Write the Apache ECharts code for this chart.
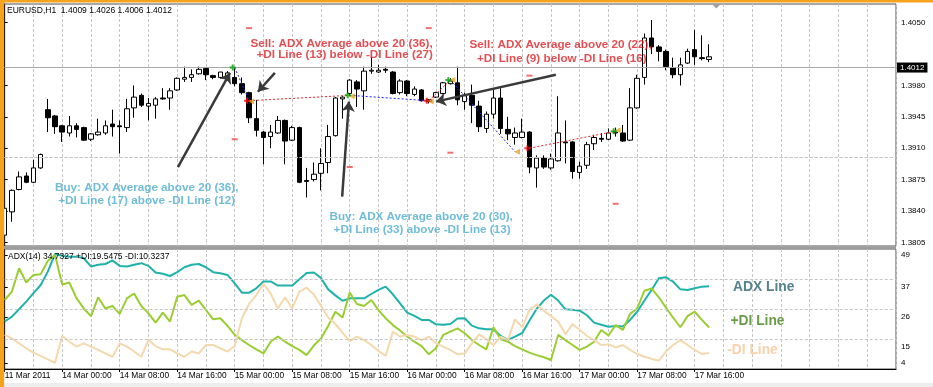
<!DOCTYPE html>
<html><head><meta charset="utf-8">
<script src="https://cdn.jsdelivr.net/npm/echarts@6/dist/echarts.min.js"></script>
<style>html,body{margin:0;padding:0;background:#fff}#c{width:933px;height:387px}</style>
</head><body><div id="c"></div>
<script>
// ---------------- DATA ----------------
const openP  = [1.3813,1.3839,1.3864,1.3879,1.3872,1.3888,1.3953,1.3946,1.3935,1.3927,1.3935,1.3933,1.3920,1.3925,1.3927,1.3937,1.3935,1.3933,1.3955,1.3969,1.3957,1.3958,1.3966,1.3966,1.3975,1.3987,1.3989,1.3993,1.3999,1.3991,1.3989,1.3986,1.3989,1.3982,1.3972,1.3943,1.3928,1.3923,1.3927,1.3941,1.3919,1.3933,1.3874,1.3875,1.3882,1.3894,1.3924,1.3965,1.3971,1.3984,1.3974,1.3996,1.3995,1.3998,1.3995,1.3972,1.3985,1.3970,1.3975,1.3962,1.3967,1.3971,1.3982,1.3983,1.3962,1.3969,1.3957,1.3932,1.3948,1.3966,1.3931,1.3922,1.3922,1.3928,1.3888,1.3899,1.3888,1.3896,1.3917,1.3917,1.3883,1.3891,1.3915,1.3921,1.3920,1.3927,1.3927,1.3919,1.3955,1.3989,1.4033,1.4023,1.4018,1.4000,1.3992,1.4005,1.4020,1.4011,1.4009];
const highP  = [1.3847,1.3864,1.3884,1.3883,1.3897,1.3904,1.3965,1.3947,1.3936,1.3946,1.3938,1.3934,1.3927,1.3943,1.3941,1.3953,1.3941,1.3965,1.3980,1.3971,1.3966,1.3967,1.3977,1.3977,1.3989,1.4001,1.3998,1.4001,1.4000,1.3992,1.3995,1.3996,1.3999,1.3989,1.3973,1.3964,1.3929,1.3936,1.3946,1.3942,1.3935,1.3934,1.3888,1.3894,1.3910,1.3936,1.3967,1.3968,1.3987,1.3986,1.4001,1.4012,1.4003,1.4001,1.3996,1.3987,1.3986,1.3979,1.3976,1.3965,1.3973,1.3984,1.3988,1.4001,1.3972,1.3981,1.3963,1.3951,1.3975,1.3977,1.3945,1.3933,1.3943,1.3929,1.3902,1.3902,1.3904,1.3968,1.3941,1.3918,1.3895,1.3917,1.3925,1.3927,1.3932,1.3933,1.3936,1.3977,1.3992,1.4038,1.4053,1.4025,1.4020,1.4011,1.4011,1.4021,1.4042,1.4036,1.4026];
const lowP   = [1.3808,1.3828,1.3863,1.3871,1.3871,1.3887,1.3928,1.3926,1.3917,1.3923,1.3922,1.3918,1.3918,1.3924,1.3925,1.3923,1.3904,1.3928,1.3944,1.3956,1.3941,1.3943,1.3964,1.3953,1.3974,1.3984,1.3984,1.3992,1.3986,1.3987,1.3988,1.3985,1.3979,1.3970,1.3938,1.3923,1.3892,1.3910,1.3926,1.3892,1.3918,1.3871,1.3855,1.3873,1.3863,1.3882,1.3923,1.3943,1.3969,1.3956,1.3953,1.3993,1.3994,1.3994,1.3970,1.3970,1.3968,1.3968,1.3962,1.3960,1.3966,1.3970,1.3981,1.3958,1.3953,1.3938,1.3928,1.3927,1.3943,1.3926,1.3919,1.3914,1.3921,1.3882,1.3866,1.3887,1.3886,1.3895,1.3893,1.3876,1.3876,1.3887,1.3908,1.3917,1.3919,1.3923,1.3917,1.3918,1.3954,1.3981,1.4015,1.4007,1.3997,1.3988,1.3980,1.4004,1.4003,1.4008,1.4006];
const closeP = [1.3843,1.3863,1.3878,1.3872,1.3888,1.3903,1.3944,1.3934,1.3928,1.3935,1.3931,1.3919,1.3926,1.3928,1.3935,1.3934,1.3934,1.3954,1.3967,1.3958,1.3960,1.3965,1.3965,1.3974,1.3988,1.3989,1.3992,1.3998,1.3992,1.3989,1.3995,1.3994,1.3982,1.3972,1.3944,1.3930,1.3922,1.3928,1.3941,1.3918,1.3933,1.3872,1.3873,1.3881,1.3893,1.3923,1.3966,1.3967,1.3986,1.3976,1.3996,1.3997,1.3997,1.3997,1.3971,1.3985,1.3971,1.3976,1.3963,1.3964,1.3972,1.3983,1.3985,1.3964,1.3969,1.3958,1.3934,1.3948,1.3966,1.3932,1.3926,1.3927,1.3928,1.3889,1.3899,1.3889,1.3898,1.3927,1.3916,1.3884,1.3890,1.3914,1.3922,1.3920,1.3927,1.3928,1.3918,1.3955,1.3988,1.4033,1.4023,1.4018,1.4001,1.3992,1.4003,1.4018,1.4012,1.4010,1.4012];

const adxLine = [21.8,23.6,26.3,29.1,32.2,35.2,40.1,46.6,45.9,45.6,45.6,45.0,42.0,42.6,42.9,44.2,42.2,42.0,42.6,43.2,42.2,39.8,39.3,38.5,39.9,41.7,42.6,42.9,41.7,39.9,39.5,38.9,35.8,32.4,32.4,34.0,36.5,36.5,35.0,35.0,35.0,37.3,39.6,39.8,37.8,33.6,31.4,29.4,30.3,30.3,30.3,31.9,33.4,34.6,31.8,28.5,25.1,23.9,22.4,22.4,20.8,20.6,20.9,22.9,23.0,20.3,19.3,19.0,19.0,16.5,15.1,16.3,17.6,22.1,26.4,29.5,31.6,29.5,26.3,26.1,25.8,24.1,21.4,20.6,19.9,20.2,20.0,22.4,25.4,29.5,33.4,37.7,38.0,36.4,33.6,33.4,34.0,34.6,34.7];
const plusDI  = [29.7,32.8,41.3,36.1,38.9,39.1,44.1,46.2,35.4,36.1,30.3,26.6,23.8,30.7,26.6,27.5,24.6,30.3,32.1,27.5,24.8,21.4,25.1,21.8,30.9,31.5,27.9,29.5,26.0,22.6,23.0,20.2,16.9,15.0,13.2,11.6,10.1,14.4,16.3,14.4,12.8,11.4,9.5,13.0,15.6,20.2,25.4,23.3,32.4,28.2,27.5,29.7,26.0,23.0,20.5,18.5,16.3,14.4,12.8,9.8,12.0,16.9,18.1,19.3,17.5,15.0,13.2,11.6,19.7,15.3,14.4,12.8,11.6,10.4,9.5,8.7,7.7,16.9,15.0,13.2,11.4,12.6,14.4,18.7,16.7,20.5,18.7,24.6,26.6,33.1,33.9,30.7,26.9,23.2,19.7,23.8,25.4,22.4,19.6];
const minusDI = [16.9,15.6,13.8,12.0,10.4,9.2,7.9,6.7,16.6,14.4,12.6,13.8,12.6,11.4,10.1,8.9,13.8,12.6,10.8,8.9,15.0,12.8,11.6,11.6,10.1,8.9,10.8,10.1,13.2,13.2,12.0,10.8,12.8,23.0,28.3,31.5,35.6,32.1,26.6,30.7,26.6,32.8,34.2,31.7,27.6,23.3,20.9,17.7,14.6,16.3,15.0,13.2,11.0,9.2,18.1,16.3,16.9,16.3,15.0,16.3,13.8,12.6,11.4,9.8,10.1,13.8,17.1,15.3,13.2,16.3,15.0,22.6,19.7,26.0,28.1,25.8,23.8,21.8,17.1,20.9,18.7,16.5,15.0,13.2,13.5,12.3,13.2,11.4,9.9,8.9,8.1,7.5,10.8,13.2,15.0,13.2,11.4,9.9,10.3];

// time categories: 8 bars of Fri 11 Mar (16:00-23:00), then hourly from Mon 14 Mar 00:00, plus empty shift area
const slotCount = 125;
const categories = [];
for (let i = 0; i < slotCount; i++) {
  let day, hour;
  if (i < 8) { day = 11; hour = 16 + i; } else { const k = i - 8; day = 14 + Math.floor(k / 24); hour = k % 24; }
  categories.push(day + ' Mar ' + String(hour).padStart(2, '0') + ':00');
}
const xTickIndex = [0, 8, 16, 24, 32, 40, 48, 56, 64, 72, 80, 88, 96];
const xTickText  = ['11 Mar 2011','14 Mar 00:00','14 Mar 08:00','14 Mar 16:00','15 Mar 00:00','15 Mar 08:00','15 Mar 16:00','16 Mar 00:00','16 Mar 08:00','16 Mar 16:00','17 Mar 00:00','17 Mar 08:00','17 Mar 16:00'];

const priceTicks = [1.4050, 1.3980, 1.3945, 1.3910, 1.3875, 1.3840, 1.3805];
const priceMin = 1.38009, priceMax = 1.40709;
const bidPrice = 1.4012;

const indMin = 4.4, indMax = 48.4;
const indGrid = [15.4, 26.4, 37.4];
const indLabelPos  = [46.2, 34.5, 23.5, 12.5, 6.6];
const indLabelText = ['49', '37', '26', '15', '4'];

// trades (bar index, price)
const tradeOpenIdx    = [32, 34, 48, 59, 62, 73];
const tradeOpenPrice  = [1.4000, 1.3963, 1.3969, 1.3963, 1.3986, 1.3910];
const tradeCloseIdx   = [34, 48, 59, 62, 71, 85];
const tradeClosePrice = [1.3963, 1.3969, 1.3963, 1.3986, 1.3906, 1.3929];
const tradeSide       = ['buy', 'sell', 'buy', 'sell', 'buy', 'sell'];
const buyOpenMarks  = [[32, 1.4000], [48, 1.3969], [62, 1.3986], [85, 1.3929]];
const sellOpenMarks = [[34, 1.3963], [59, 1.3963], [73, 1.3910]];
const closeMarks    = [[34, 1.3962], [48, 1.3968], [59, 1.3962], [62, 1.3986], [71, 1.3906], [85, 1.3930]];
const stopMarks     = [[32, 1.3920], [34, 1.4044], [48, 1.3889], [59, 1.4044], [62, 1.3905], [73, 1.3991], [85, 1.3848]];

// annotation arrows (bar index, price)
const arrowFrom = [[24.10, 1.3889], [37.59, 1.3994], [46.95, 1.3856], [76.68, 1.3992]];
const arrowTo   = [[31.34, 1.3994], [35.23, 1.3973], [47.89, 1.3962], [59.99, 1.3962]];

// signal notes
const noteText = ['Sell: ADX Average above 20 (36),', '+DI Line (13) below -DI Line (27)',
                  'Sell: ADX Average above 20 (22),', '+DI Line (9) below -DI Line (16)',
                  'Buy: ADX Average above 20 (36),', '+DI Line (17) above -DI Line (12)',
                  'Buy: ADX Average above 20 (30),', '+DI Line (33) above -DI Line (13)'];
const notePos = [[46.87, 1.40268], [47.29, 1.40140], [77.34, 1.40255], [77.51, 1.40097],
                 [19.76, 1.38664], [19.75, 1.38511], [57.94, 1.38336], [58.07, 1.38195]];
const noteKind = ['sell', 'sell', 'sell', 'sell', 'buy', 'buy', 'buy', 'buy'];

const legendText = ['ADX Line', '+DI Line', '-DI Line'];
const legendPos  = [[105.6, 34.36], [104.73, 22.11], [104.03, 11.37]];

// ---------------- STYLE ----------------
const FONT = 'Liberation Sans, Arial, sans-serif';
const GRIDC = '#c6c6c6';
const C_ADX = '#20b2aa', C_PDI = '#9acd32', C_MDI = '#f5d9ae';
const L_ADX = '#28636f', L_PDI = '#44821a', L_MDI = '#f8c596';
const RED = '#e01f24', BLUE = '#4cadd0';

const candleData = openP.map((o, i) => [o, closeP[i], lowP[i], highP[i]]);
const vSplit = i => i % 4 === 0 && i > 0;
const isTick = i => xTickIndex.indexOf(i) >= 0;
const gridLineStyle = { color: GRIDC, type: [3, 2], width: 1 };

const chart = echarts.init(document.getElementById('c'));
const option = {
  animation: false,
  backgroundColor: '#ffffff',
  grid: [
    { left: 4.7, right: 37, top: 4, height: 242, show: true, borderColor: '#505050', borderWidth: 1, backgroundColor: '#fff' },
    { left: 4.7, right: 37, top: 249, height: 120, show: true, borderColor: '#505050', borderWidth: 1, backgroundColor: '#fff' }
  ],
  xAxis: [
    { type: 'category', gridIndex: 0, data: categories, boundaryGap: false, position: 'bottom',
      axisLine: { show: false }, axisTick: { show: false }, axisLabel: { show: false },
      splitLine: { show: true, interval: vSplit, lineStyle: gridLineStyle } },
    { type: 'value', gridIndex: 0, min: 0, max: slotCount - 1, show: false, position: 'bottom' },
    { type: 'category', gridIndex: 1, data: categories, boundaryGap: false, position: 'bottom',
      axisLine: { show: true, lineStyle: { color: '#000', width: 1 } },
      axisTick: { show: true, interval: isTick, length: 3, lineStyle: { color: '#000' } },
      axisLabel: { show: true, interval: isTick, align: 'left', margin: 3, fontSize: 8.4, color: '#000', fontFamily: FONT,
        formatter: (v, i) => xTickText[xTickIndex.indexOf(i)] || '' },
      splitLine: { show: true, interval: vSplit, lineStyle: gridLineStyle } },
    { type: 'value', gridIndex: 1, min: 0, max: slotCount - 1, show: false, position: 'bottom' }
  ],
  yAxis: [
    { type: 'value', gridIndex: 0, position: 'right', min: priceMin, max: priceMax, scale: true,
      axisLine: { show: true, lineStyle: { color: '#000' } },
      axisTick: { show: true, length: 3, customValues: priceTicks, lineStyle: { color: '#000' } },
      axisLabel: { show: true, customValues: priceTicks, margin: 5, fontSize: 8, color: '#000', fontFamily: FONT,
        formatter: v => v.toFixed(4) },
      splitLine: { show: false } },
    { type: 'value', gridIndex: 1, position: 'right', min: indMin, max: indMax,
      axisLine: { show: true, lineStyle: { color: '#000' } },
      axisTick: { show: true, length: 3, customValues: indLabelPos, lineStyle: { color: '#000' } },
      axisLabel: { show: true, customValues: indLabelPos, margin: 5, fontSize: 8, color: '#000', fontFamily: FONT,
        formatter: v => { const k = indLabelPos.findIndex(p => Math.abs(p - v) < 1e-6); return k >= 0 ? indLabelText[k] : ''; } },
      splitLine: { show: false } }
  ],
  series: [
    { type: 'scatter', xAxisIndex: 1, yAxisIndex: 0, data: [], z: 1, silent: true,
      markLine: { silent: true, symbol: 'none', label: { show: false }, animation: false,
        lineStyle: gridLineStyle, data: priceTicks.map(v => ({ yAxis: v })) } },
    { type: 'scatter', xAxisIndex: 3, yAxisIndex: 1, data: [], z: 1, silent: true,
      markLine: { silent: true, symbol: 'none', label: { show: false }, animation: false,
        lineStyle: gridLineStyle, data: indGrid.map(v => ({ yAxis: v })) } },
    { type: 'candlestick', xAxisIndex: 0, yAxisIndex: 0, data: candleData, barWidth: 5, z: 3, silent: true,
      itemStyle: { color: '#ffffff', color0: '#000000', borderColor: '#000000', borderColor0: '#000000', borderWidth: 1 },
      markLine: { silent: true, symbol: 'none', animation: false,
        lineStyle: { color: '#a8a8a8', type: 'solid', width: 1 },
        label: { show: true, position: 'end', distance: 1, formatter: bidPrice.toFixed(4), color: '#fff', backgroundColor: '#000',
          padding: [1, 3, 1, 3], fontSize: 8, fontFamily: FONT },
        data: [{ yAxis: bidPrice }] } },
    { type: 'lines', coordinateSystem: 'cartesian2d', xAxisIndex: 1, yAxisIndex: 0, z: 4, silent: true,
      data: tradeOpenIdx.map((o, k) => ({ coords: [[o, tradeOpenPrice[k]], [tradeCloseIdx[k], tradeClosePrice[k]]],
        lineStyle: { color: tradeSide[k] === 'buy' ? '#2020ff' : '#ff2020' } })),
      lineStyle: { width: 1, type: [2, 2], opacity: 1 } },
    { type: 'scatter', xAxisIndex: 1, yAxisIndex: 0, z: 5, silent: true, data: stopMarks,
      symbol: 'rect', symbolSize: [6, 2], itemStyle: { color: '#f24a4a' } },
    { type: 'scatter', xAxisIndex: 1, yAxisIndex: 0, z: 6, silent: true, data: closeMarks,
      symbol: 'triangle', symbolRotate: 90, symbolSize: [6, 6], symbolOffset: [2, 0], itemStyle: { color: '#e4a423' } },
    { type: 'scatter', xAxisIndex: 1, yAxisIndex: 0, z: 7, silent: true, data: buyOpenMarks,
      symbol: 'path://M2 0H4V2H6V4H4V6H2V4H0V2H2Z', symbolSize: 6, symbolOffset: [-2, 0], itemStyle: { color: '#00a000' } },
    { type: 'scatter', xAxisIndex: 1, yAxisIndex: 0, z: 7, silent: true, data: sellOpenMarks,
      symbol: 'path://M2 0H4V2H6V4H4V6H2V4H0V2H2Z', symbolSize: 6, symbolOffset: [-2, 0], itemStyle: { color: '#ff0000' } },
    { type: 'lines', coordinateSystem: 'cartesian2d', xAxisIndex: 1, yAxisIndex: 0, z: 8, silent: true,
      symbol: ['none', 'arrow'], symbolSize: 10,
      data: arrowFrom.map((f, k) => ({ coords: [f, arrowTo[k]] })),
      lineStyle: { color: '#3a3a3a', width: 2.5, opacity: 1 } },
    { type: 'scatter', xAxisIndex: 1, yAxisIndex: 0, z: 9, silent: true, symbolSize: 0,
      data: notePos.map((p, k) => ({ value: p, name: noteText[k],
        label: { color: noteKind[k] === 'sell' ? RED : BLUE } })),
      label: { show: true, position: 'inside', formatter: '{b}', fontSize: 11.7, fontWeight: 'bold', fontFamily: FONT } },
    { type: 'line', xAxisIndex: 2, yAxisIndex: 1, data: adxLine, symbol: 'none', z: 3, silent: true,
      lineStyle: { color: C_ADX, width: 2 } },
    { type: 'line', xAxisIndex: 2, yAxisIndex: 1, data: plusDI, symbol: 'none', z: 3, silent: true,
      lineStyle: { color: C_PDI, width: 2 } },
    { type: 'line', xAxisIndex: 2, yAxisIndex: 1, data: minusDI, symbol: 'none', z: 3, silent: true,
      lineStyle: { color: C_MDI, width: 2 } },
    { type: 'scatter', xAxisIndex: 3, yAxisIndex: 1, z: 9, silent: true, symbolSize: 0,
      data: legendPos.map((p, k) => ({ value: p, name: legendText[k], label: { color: [L_ADX, L_PDI, L_MDI][k] } })),
      label: { show: true, position: 'inside', formatter: '{b}', fontSize: 13.8, fontWeight: 'bold', fontFamily: FONT } }
  ]
};
chart.setOption(option);

const shiftX = chart.convertToPixel({ xAxisIndex: 1 }, 99);
chart.setOption({
  graphic: [
    { type: 'text', left: 7, top: 6.5, z: 100, silent: true,
      style: { text: 'EURUSD,H1  1.4009 1.4026 1.4006 1.4012', fontSize: 8.5, fontFamily: FONT, fill: '#000' } },
    { type: 'text', left: 8, top: 252, z: 100, silent: true,
      style: { text: 'ADX(14) 34.7327 +DI:19.5475 -DI:10.3237', fontSize: 8.5, fontFamily: FONT, fill: '#000' } },
    { type: 'rect', z: 100, silent: true, shape: { x: 0, y: 246.5, width: 896, height: 2.5 }, style: { fill: '#9c9c9c' } },
    { type: 'rect', z: 100, silent: true, shape: { x: 0, y: 383, width: 933, height: 4 }, style: { fill: '#ededed' } },
    { type: 'polygon', z: 100, silent: true, shape: { points: [[shiftX - 4, 4.5], [shiftX + 4, 4.5], [shiftX, 8.5]] }, style: { fill: '#a0a0a0' } },
    { type: 'rect', z: 101, silent: true, shape: { x: 0, y: 0, width: 4.2, height: 387 }, style: { fill: '#f5a31f' } },
    { type: 'rect', z: 101, silent: true, shape: { x: 0, y: 0, width: 933, height: 2.6 }, style: { fill: '#f5a31f' } }
  ]
});
</script>
</body></html>
